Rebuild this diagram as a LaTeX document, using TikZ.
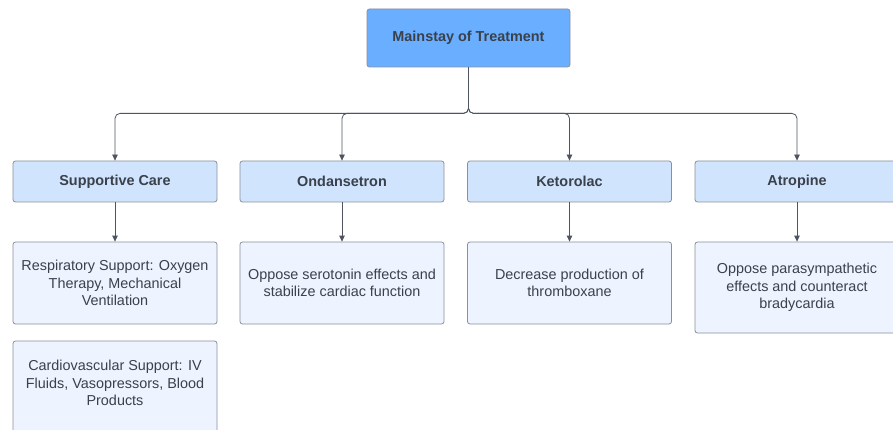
\documentclass[tikz,border=0pt]{standalone}
\usepackage{fontspec}
\setmainfont{Liberation Sans}
\usetikzlibrary{arrows.meta}
\definecolor{topfill}{HTML}{6AAEFF}
\definecolor{midfill}{HTML}{D0E4FE}
\definecolor{lowfill}{HTML}{EDF4FF}
\definecolor{edgecol}{HTML}{8A9099}
\definecolor{linecol}{HTML}{4E5560}
\definecolor{txtcol}{HTML}{3A414B}
\tikzset{
  basebox/.style={draw=edgecol, line width=0.8pt, rounded corners=2.5pt, inner sep=0pt,
    align=center, text=txtcol, font=\fontsize{14.4}{17.5}\selectfont},
  topbox/.style={basebox, fill=topfill, minimum width=203pt, minimum height=58pt, font=\fontsize{14.4}{17.5}\selectfont\bfseries},
  midbox/.style={basebox, fill=midfill, minimum width=204pt, minimum height=41pt, font=\fontsize{14.4}{17.5}\selectfont\bfseries},
  lowbox/.style={basebox, fill=lowfill, minimum width=204pt},
  txt/.style={align=center, text=txtcol, inner sep=0pt, font=\fontsize{14.4}{17.5}\selectfont},
  conn/.style={draw=linecol, line width=0.8pt, -{Triangle[length=6pt,width=5.5pt]}},
}
\begin{document}
\begin{tikzpicture}[x=1pt,y=-1pt]
\useasboundingbox[fill=white] (0,0) rectangle (893,430);
\node[topbox] (top) at (468.5,38) {Mainstay of Treatment};
\node[midbox] (sc) at (115,181.5) {Supportive Care};
\node[midbox] (on) at (342,181.5) {Ondansetron};
\node[midbox] (ke) at (569.5,181.5) {Ketorolac};
\node[midbox] (at) at (797,181.5) {Atropine};
\node[lowbox, minimum height=82pt] (resp) at (115,283) {Respiratory Support: Oxygen\\Therapy, Mechanical\\Ventilation};
\node[lowbox, minimum height=82pt] (ond) at (342,283) {Oppose serotonin effects and\\stabilize cardiac function};
\node[lowbox, minimum height=82pt] (ket) at (569.5,283) {Decrease production of\\thromboxane};
\node[lowbox, minimum height=91pt] (atr) at (797,287.5) {Oppose parasympathetic\\effects and counteract\\bradycardia};
\node[lowbox, minimum height=104pt] (card) at (115,393) {};
\node[txt] (cardtxt) at (115,383) {Cardiovascular Support: IV\\Fluids, Vasopressors, Blood\\Products};
\foreach \c in {sc,on,ke,at}{
  \draw[conn, rounded corners=5pt] (top.south) -- ++(0,46) -| (\c.north);
}
\draw[conn] (sc.south) -- (resp.north);
\draw[conn] (on.south) -- (ond.north);
\draw[conn] (ke.south) -- (ket.north);
\draw[conn] (at.south) -- (atr.north);
\end{tikzpicture}
\end{document}
